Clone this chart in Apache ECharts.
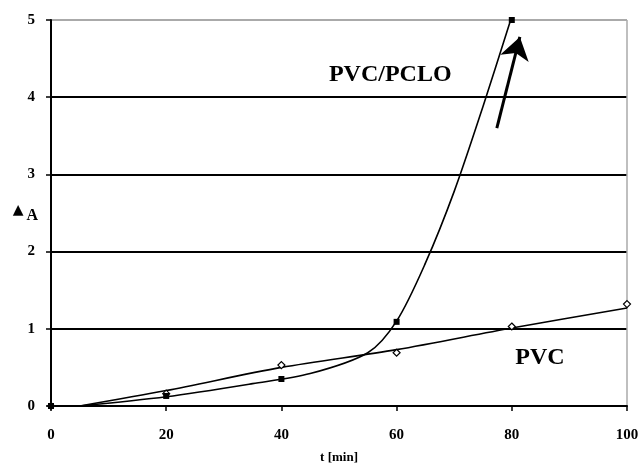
<!DOCTYPE html>
<html>
<head>
<meta charset="utf-8">
<script src="https://cdn.jsdelivr.net/npm/echarts@6/dist/echarts.min.js"></script>
<style>html,body{margin:0;padding:0;background:#fff;}#c{width:638px;height:466px;}</style>
</head>
<body>
<div id="c"></div>
<script>
// Measured points (markers)
const pvcPoints = [[0,0],[20,0.16],[40,0.53],[60,0.69],[80,1.03],[100,1.32]];
const pclopoints = [[0,0],[20,0.13],[40,0.35],[60,1.09],[80,5.0]];
// Trend curves
const pvcCurve = [[5,0],[20,0.2],[40,0.5],[60,0.73],[80,1.01],[100,1.27]];
const pcloCurve = [[5,0],[20,0.12],[35,0.29],[45,0.42],[55,0.69],[60,1.1],[65,1.85],[70,2.78],[75,3.88],[79.8,5.0]];
// Annotations
const labelPclo = [[58.9,4.29,'PVC/PCLO']];
const labelPvc = [[84.9,0.63,'PVC']];
const arrowFrom = [77.4,3.6];
const arrowTo = [81.4,4.78];
const xTicks = [0,20,40,60,80,100];
const yTicks = [0,1,2,3,4,5];

const font = '"Liberation Serif", "Times New Roman", serif';
const chart = echarts.init(document.getElementById('c'));
chart.setOption({
  animation: false,
  backgroundColor: '#fff',
  grid: {left: 51, right: 11, top: 20, bottom: 60, containLabel: false, outerBoundsMode: 'none'},
  xAxis: {
    type: 'value', min: 0, max: 100, interval: 20,
    name: 't [min]', nameLocation: 'middle', nameGap: 45, nameMoveOverlap: false,
    nameTextStyle: {fontFamily: font, fontWeight: 'bold', fontSize: 13, color: '#000'},
    axisLine: {lineStyle: {color: '#000', width: 2}},
    axisTick: {show: true, length: 5, lineStyle: {color: '#000', width: 1.5}},
    axisLabel: {margin: 22, fontFamily: font, fontWeight: 'bold', fontSize: 15, color: '#000', hideOverlap: false},
    splitLine: {show: true, lineStyle: {color: ['transparent','transparent','transparent','transparent','transparent','#aaa'], width: 1.5}}
  },
  yAxis: {
    type: 'value', min: 0, max: 5, interval: 1,
    name: '{t|▲}{a|A}', nameLocation: 'middle', nameRotate: 0, nameGap: 13, nameMoveOverlap: false,
    nameTextStyle: {
      align: 'right', verticalAlign: 'middle',
      rich: {
        t: {fontFamily: 'DejaVu Sans', fontSize: 14, fontWeight: 'bold', color: '#000', padding: [0,3,6,0]},
        a: {fontFamily: font, fontSize: 16, fontWeight: 'bold', color: '#000', padding: [6,0,0,0]}
      }
    },
    axisLine: {show: true, lineStyle: {color: '#000', width: 2}},
    axisTick: {show: true, length: 5, lineStyle: {color: '#000', width: 1.5}},
    axisLabel: {margin: 16, fontFamily: font, fontWeight: 'bold', fontSize: 15, color: '#000'},
    splitLine: {show: true, lineStyle: {color: ['#000','#000','#000','#000','#000','#aaa'], width: 2}}
  },
  series: [
    {type: 'line', data: pvcCurve, smooth: 0.3, showSymbol: false, lineStyle: {color: '#000', width: 1.6}, silent: true, z: 3},
    {type: 'line', data: pcloCurve, smooth: 0.3, showSymbol: false, lineStyle: {color: '#000', width: 1.6}, silent: true, z: 3},
    {type: 'scatter', data: pvcPoints, symbol: 'diamond', symbolSize: 7, itemStyle: {color: '#fff', borderColor: '#000', borderWidth: 1.2, opacity: 1}, z: 5},
    {type: 'scatter', data: pclopoints, symbol: 'rect', symbolSize: 6, itemStyle: {color: '#000', opacity: 1}, z: 6},
    {type: 'scatter', data: labelPclo, symbolSize: 0, silent: true, itemStyle: {opacity: 1},
      label: {show: true, position: 'inside', formatter: p => p.data[2], fontFamily: font, fontWeight: 'bold', fontSize: 24, color: '#000', textBorderWidth: 0}},
    {type: 'scatter', data: labelPvc, symbolSize: 0, silent: true, itemStyle: {opacity: 1},
      label: {show: true, position: 'inside', formatter: p => p.data[2], fontFamily: font, fontWeight: 'bold', fontSize: 24, color: '#000', textBorderWidth: 0}},
    {type: 'line', data: [], silent: true,
      markLine: {silent: true, symbol: ['none','arrow'], symbolSize: 22, label: {show: false},
        lineStyle: {color: '#000', width: 3, type: 'solid'},
        data: [[{coord: arrowFrom}, {coord: arrowTo}]]}}
  ]
});
</script>
</body>
</html>
